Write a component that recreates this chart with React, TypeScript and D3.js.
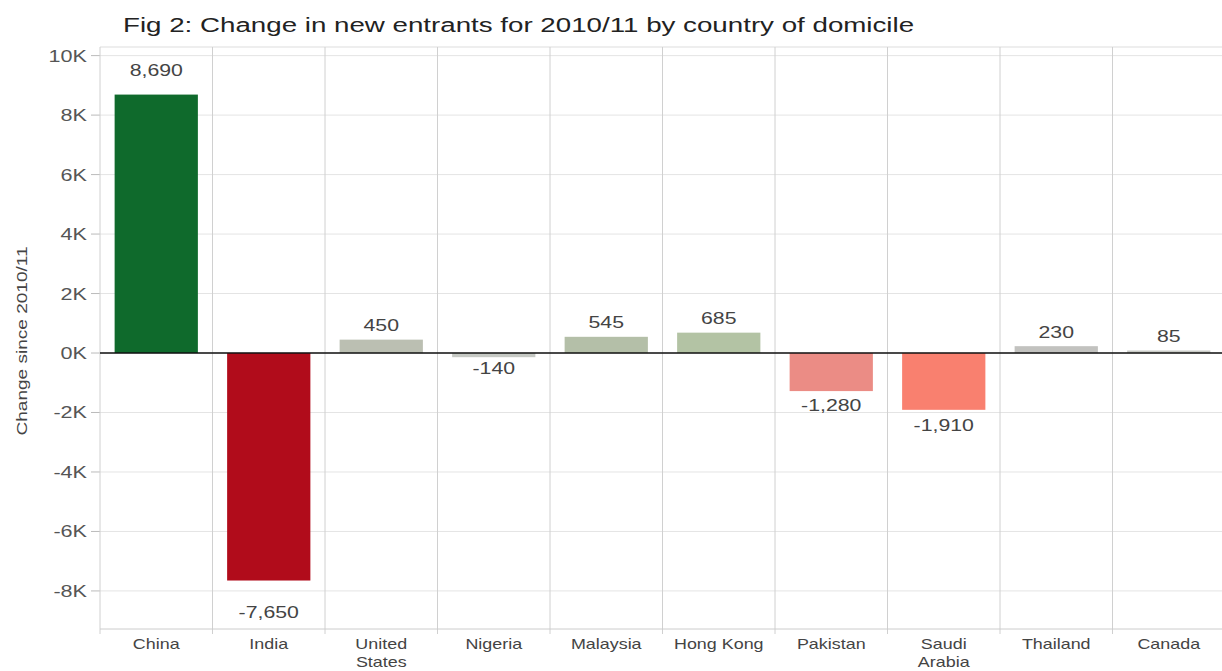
import React from "react";
import * as d3 from "d3";

const categories = ["China", "India", "United States", "Nigeria", "Malaysia", "Hong Kong", "Pakistan", "Saudi Arabia", "Thailand", "Canada"];
const values = [8690, -7650, 450, -140, 545, 685, -1280, -1910, 230, 85];
const colors = ["#0f6a2c", "#b10c1b", "#bbbfb2", "#c6c9c4", "#b4bfa8", "#b3c3a4", "#eb8c85", "#f9806f", "#c2c2bf", "#c9cbc6"];
const yTicks = [10000, 8000, 6000, 4000, 2000, 0, -2000, -4000, -6000, -8000];

const W = 1222, H = 671;
const left = 100, right = 1225, top = 47, bottom = 629;

function SText({ x, y, sx = 1.33, size, anchor = "start", fill = "#444", children }: any) {
  return (
    <text transform={`translate(${x},${y}) scale(${sx},1)`} textAnchor={anchor} fontSize={size} fill={fill}>
      {children}
    </text>
  );
}

export default function App() {
  const x = d3.scaleBand<string>().domain(categories).range([left, right]).paddingInner(0).paddingOuter(0);
  const y = d3.scaleLinear().domain([-9280, 10290]).range([bottom, top]);
  const bw = x.bandwidth();
  const barW = bw * 0.74;
  const fmt = (v: number) => d3.format(",")(v).replace("\u2212", "-");
  const font = "'Liberation Sans', Arial, sans-serif";
  return (
    <svg width={W} height={H} style={{ position: "absolute", left: 0, top: 0, background: "#fff" }} fontFamily={font}>
      <SText x={123} y={32} size={21} sx={1.32} fill="#222">Fig 2: Change in new entrants for 2010/11 by country of domicile</SText>
      {yTicks.map((t) => (
        <g key={t}>
          <line x1={left} x2={W} y1={y(t)} y2={y(t)} stroke="#e4e4e4" />
          <line x1={91} x2={left} y1={y(t)} y2={y(t)} stroke="#bbb" />
          <SText x={87} y={y(t) + 6} size={16} sx={1.35} anchor="end" fill="#555">{`${t / 1000}K`}</SText>
        </g>
      ))}
      <line x1={left} x2={W} y1={top} y2={top} stroke="#ddd" />
      {categories.map((c) => (
        <line key={c} x1={x(c)!} x2={x(c)!} y1={top} y2={bottom + 5} stroke="#d0d0d0" />
      ))}
      <line x1={left} x2={W} y1={bottom} y2={bottom} stroke="#ccc" />
      {categories.map((c, i) => {
        const v = values[i];
        const x0 = x(c)! + (bw - barW) / 2;
        const y0 = y(Math.max(0, v));
        const h = Math.abs(y(v) - y(0));
        const ly = v >= 0 ? y(v) - (14 + h * 0.04) : y(v) + (10 + h * 0.095);
        return (
          <g key={c}>
            <rect x={x0} y={y0} width={barW} height={Math.max(h, 1)} fill={colors[i]} />
            <SText x={x(c)! + bw / 2} y={ly + 6} size={16} sx={1.33} anchor="middle" fill="#444">{fmt(v)}</SText>
          </g>
        );
      })}
      <line x1={left} x2={W} y1={y(0)} y2={y(0)} stroke="#111" strokeWidth={1.6} />
      {categories.map((c) => {
        const words = c.includes(" ") && c !== "Hong Kong" ? c.split(" ") : [c];
        return words.map((w, j) => (
          <SText key={c + j} x={x(c)! + bw / 2} y={649 + j * 18} size={14} sx={1.28} anchor="middle" fill="#444">{w}</SText>
        ));
      })}
      <text transform={`translate(27,341) rotate(-90) scale(1.36,1)`} textAnchor="middle" fontSize={14} fill="#444">Change since 2010/11</text>
    </svg>
  );
}
